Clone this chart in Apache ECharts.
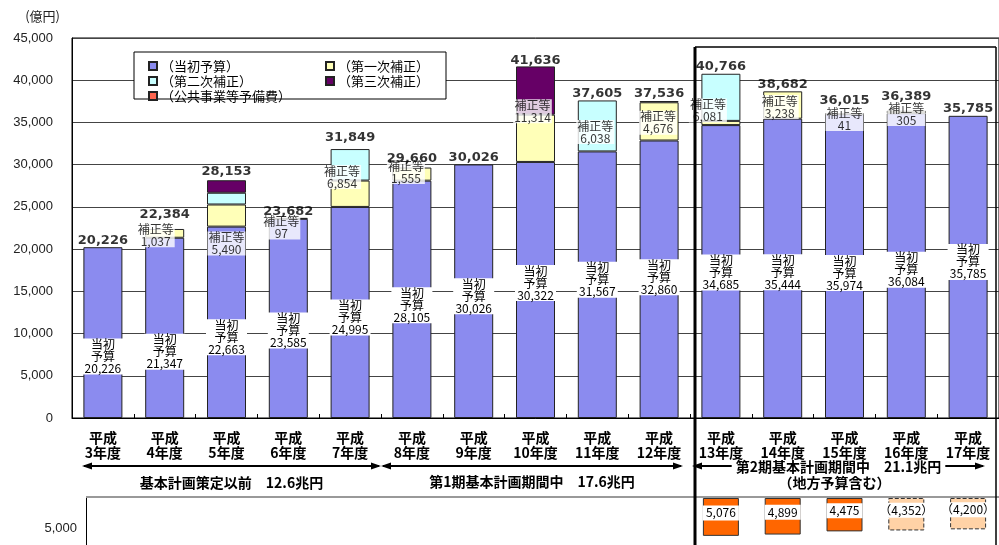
<!DOCTYPE html>
<html>
<head>
<meta charset="utf-8">
<script src="https://cdn.jsdelivr.net/npm/echarts@6/dist/echarts.min.js"></script>
<style>
  html, body { margin: 0; padding: 0; background: #fff; }
  #chart { width: 999px; height: 545px; }
</style>
</head>
<body>
<div id="chart"></div>
<script>
// Fiscal years (Heisei 3 – 17)
const years = ['平成\n3年度', '平成\n4年度', '平成\n5年度', '平成\n6年度', '平成\n7年度',
  '平成\n8年度', '平成\n9年度', '平成\n10年度', '平成\n11年度', '平成\n12年度',
  '平成\n13年度', '平成\n14年度', '平成\n15年度', '平成\n16年度', '平成\n17年度'];

// Budget components, 億円
const initialBudget = [20226, 21347, 22663, 23585, 24995, 28105, 30026, 30322, 31567, 32860, 34685, 35444, 35974, 36084, 35785];
const firstSupp     = [null, 1037, 2620, 97, 3124, 1555, null, 5600, null, 4526, 500, 3238, 41, 305, null];
const secondSupp    = [null, null, 1390, null, 3730, null, null, null, 6038, null, 5581, null, null, null, null];
const thirdSupp     = [null, null, 1480, null, null, null, null, 5714, null, null, null, null, null, null, null];
const publicWorksReserve = [null, null, null, null, null, null, null, null, null, 150, null, null, null, null, null];

// Local government budgets (lower panel); the last two are planned figures
const localActual  = [null, null, null, null, null, null, null, null, null, null, 5076, 4899, 4475, null, null];
const localPlanned = [null, null, null, null, null, null, null, null, null, null, null, null, null, 4352, 4200];

// Plan periods shown beneath the axis
const periodNotes = ['基本計画策定以前　12.6兆円', '第1期基本計画期間中　17.6兆円', '第2期基本計画期間中　21.1兆円', '（地方予算含む）'];

const JP = '"Noto Sans CJK JP", sans-serif';
const fmt = v => Number(v).toLocaleString('en-US');
const nz = v => v || 0;

const suppTotal = years.map((_, i) => nz(firstSupp[i]) + nz(secondSupp[i]) + nz(thirdSupp[i]) + nz(publicWorksReserve[i]));
const grandTotal = years.map((_, i) => initialBudget[i] + suppTotal[i]);

// label nudges (pixels) so the boxed labels sit clear of one another
const blueNudge = [24, 24, 15, 12, 5, 6, 5, -7, -5, -2, 1, 4, 7, 4, -5];
const suppNudge = {1: [-9, 2], 2: [0, 40], 3: [-7, 9], 4: [-8, -1], 5: [-6, -2], 7: [-3, -3], 8: [-2, 6],
  9: [-1, 2], 10: [-13, 11], 11: [-3, 2], 12: [0, 5], 13: [0, 2]};
const totalNudge = {1: -7, 2: -2, 3: 1, 4: -4, 5: -2, 7: 1, 12: -6, 13: -7};

const BAR_W = 39;
function segment(name, data, color) {
  return {
    type: 'bar', name, stack: 'total', barWidth: BAR_W,
    xAxisIndex: 0, yAxisIndex: 0,
    itemStyle: { color, borderColor: '#222', borderWidth: 1 },
    data
  };
}

const blue = segment('（当初予算）', initialBudget.map((v, i) => ({
  value: v,
  label: { offset: [0, blueNudge[i]] }
})), '#8b8bef');
blue.label = {
  show: true, position: 'inside',
  formatter: p => '当初\n予算\n' + fmt(p.value),
  backgroundColor: '#fff', color: '#000',
  fontFamily: JP, fontSize: 12, lineHeight: 12,
  width: 41, align: 'center', padding: [0, 0, 0, 0]
};

const suppLabels = [];
years.forEach((_, i) => {
  if (suppTotal[i] > 0) {
    suppLabels.push({
      value: [i, initialBudget[i] + suppTotal[i] / 2],
      label: { offset: suppNudge[i] || [-2, 0] }
    });
  }
});

const option = {
  animation: false,
  backgroundColor: '#fff',
  textStyle: { fontFamily: JP },
  grid: [
    { left: 72, top: 38, width: 930, height: 380, show: true, borderColor: '#000', borderWidth: 1 },
    { left: 72, top: 498, width: 930, height: 50 }
  ],
  legend: [
    {
      data: ['（当初予算）', '（第二次補正）', '（公共事業等予備費）'],
      orient: 'vertical', left: 143, top: 54, itemGap: 1,
      itemWidth: 8, itemHeight: 8, icon: 'rect', selectedMode: false,
      textStyle: { fontSize: 13, lineHeight: 14, color: '#000', fontFamily: JP, padding: [0, 0, 0, -1] }
    },
    {
      data: ['（第一次補正）', '（第三次補正）'],
      orient: 'vertical', left: 320, top: 54, itemGap: 1,
      itemWidth: 8, itemHeight: 8, icon: 'rect', selectedMode: false,
      textStyle: { fontSize: 13, lineHeight: 14, color: '#000', fontFamily: JP, padding: [0, 0, 0, -1] }
    }
  ],
  xAxis: [
    {
      type: 'category', data: years, gridIndex: 0,
      axisLine: { lineStyle: { color: '#000', width: 1 } },
      axisTick: { show: true, inside: true, length: 4, lineStyle: { color: '#000' } },
      axisLabel: { interval: 0, fontSize: 14, fontWeight: 'bold', lineHeight: 15, margin: 12, color: '#000', fontFamily: JP }
    },
    { type: 'category', data: years, gridIndex: 1, show: false }
  ],
  yAxis: [
    {
      type: 'value', gridIndex: 0, min: 0, max: 45000, interval: 5000,
      name: '(億円)', nameLocation: 'end', nameGap: 15,
      nameTextStyle: { align: 'right', padding: [0, 12, 0, 0], fontSize: 13, color: '#222', fontFamily: JP },
      axisLine: { show: true, lineStyle: { color: '#000' } },
      axisTick: { show: false },
      axisLabel: { formatter: v => fmt(v), fontSize: 13, color: '#222', margin: 19, fontFamily: '"Liberation Sans", Arial, sans-serif' },
      splitLine: { lineStyle: { color: '#444', width: 1 } }
    },
    {
      type: 'value', gridIndex: 1, inverse: true, min: 0, max: 6300, interval: 5000, offset: -14,
      axisLine: { show: true, lineStyle: { color: '#000' } },
      axisTick: { show: false },
      splitLine: { show: false },
      axisLabel: { formatter: v => (v === 5000 ? fmt(v) : ''), fontSize: 13, color: '#222', margin: 9, verticalAlign: 'bottom',
        fontFamily: '"Liberation Sans", Arial, sans-serif' }
    }
  ],
  series: [
    blue,
    segment('（第一次補正）', firstSupp, '#ffffb8'),
    segment('（第二次補正）', secondSupp, '#c8ffff'),
    segment('（第三次補正）', thirdSupp, '#660066'),
    segment('（公共事業等予備費）', publicWorksReserve, '#ff6650'),
    {
      type: 'scatter', name: 'supp-label', xAxisIndex: 0, yAxisIndex: 0,
      symbolSize: 1, itemStyle: { color: 'rgba(0,0,0,0)' }, silent: true, z: 6,
      label: {
        show: true, position: 'inside',
        formatter: p => '補正等\n' + fmt(suppTotal[p.value[0]]),
        backgroundColor: '#fff', color: '#000', fontFamily: JP,
        fontSize: 12, lineHeight: 12, padding: [0, 1, 0, 1], align: 'center'
      },
      data: suppLabels
    },
    {
      type: 'scatter', name: 'total-label', xAxisIndex: 0, yAxisIndex: 0,
      symbolSize: 1, itemStyle: { color: 'rgba(0,0,0,0)' }, silent: true, z: 7,
      label: {
        show: true, position: 'top', distance: 0,
        formatter: p => fmt(p.value[1]),
        color: '#000', fontWeight: 'bold', fontSize: 13, fontFamily: '"DejaVu Sans", sans-serif'
      },
      data: grandTotal.map((v, i) => ({ value: [i, v], label: { offset: [0, totalNudge[i] || 0] } }))
    },
    {
      type: 'bar', name: 'local', stack: 'local', xAxisIndex: 1, yAxisIndex: 1, barWidth: 36,
      itemStyle: { color: '#ff6600', borderColor: '#333', borderWidth: 1 },
      label: {
        show: true, position: 'inside', offset: [0, -4],
        formatter: p => fmt(p.value),
        backgroundColor: '#fff', color: '#000', width: 36, align: 'center',
        fontSize: 12, lineHeight: 15, fontFamily: JP
      },
      data: localActual
    },
    {
      type: 'bar', name: 'local-planned', stack: 'local', xAxisIndex: 1, yAxisIndex: 1, barWidth: 36,
      itemStyle: { color: '#ffd2a6', borderColor: '#333', borderWidth: 1, borderType: 'dashed' },
      label: {
        show: true, position: 'inside', offset: [0, -4],
        formatter: p => '（' + fmt(p.value) + '）',
        backgroundColor: '#fff', color: '#000', align: 'center',
        fontSize: 12, lineHeight: 15, fontFamily: JP
      },
      data: localPlanned
    }
  ]
};

const chart = echarts.init(document.getElementById('chart'), null, { renderer: 'canvas' });
chart.setOption(option);

// Period arrows, frames and notes, placed from the category axis
const cx = i => chart.convertToPixel({ xAxisIndex: 0 }, i);
const band = cx(1) - cx(0);
const edge = i => cx(0) + (i - 0.5) * band;

function arrow(x1, x2, y) {
  return [
    { type: 'line', shape: { x1: x1 + 2, y1: y, x2: x2 - 2, y2: y }, style: { stroke: '#000', lineWidth: 2 }, z: 5 },
    { type: 'polygon', shape: { points: [[x1, y], [x1 + 10, y - 3.5], [x1 + 10, y + 3.5]] }, style: { fill: '#000' }, z: 5 },
    { type: 'polygon', shape: { points: [[x2, y], [x2 - 10, y - 3.5], [x2 - 10, y + 3.5]] }, style: { fill: '#000' }, z: 5 }
  ];
}
function note(text, x, y, bg) {
  return {
    type: 'text', x, y, z: 6,
    style: {
      text, fill: '#000', font: 'bold 14px "Noto Sans CJK JP", sans-serif',
      align: 'center', verticalAlign: 'middle', textAlign: 'center', textVerticalAlign: 'middle',
      backgroundColor: bg || null, padding: bg ? [0, 4] : 0
    }
  };
}

const ARROW_Y = 466;
const a1 = [edge(0) + 10, edge(5)];
const a2 = [edge(5), edge(10) - 7];
const a3 = [edge(10) + 2, edge(15) - 14];
const boxX = edge(10) + 5;

const graphics = [
  // legend frame
  { type: 'rect', shape: { x: 134, y: 52, width: 312, height: 47 }, style: { fill: '#fff', stroke: '#000', lineWidth: 1 }, z: 1 },
  ...arrow(a1[0], a1[1], ARROW_Y),
  ...arrow(a2[0], a2[1], ARROW_Y),
  ...arrow(a3[0], a3[1], ARROW_Y),
  note(periodNotes[0], (a1[0] + a1[1]) / 2, 483),
  note(periodNotes[1], (a2[0] + a2[1]) / 2, 482),
  note(periodNotes[2], (a3[0] + a3[1]) / 2, ARROW_Y + 1, '#fff'),
  note(periodNotes[3], (a3[0] + a3[1]) / 2 - 4, 483),
  // frame around the second plan period
  { type: 'line', shape: { x1: boxX, y1: 47, x2: boxX, y2: 545 }, style: { stroke: '#000', lineWidth: 3 }, z: 8 },
  { type: 'line', shape: { x1: boxX, y1: 47, x2: 996, y2: 47 }, style: { stroke: '#000', lineWidth: 1.5 }, z: 8 },
  { type: 'line', shape: { x1: 996, y1: 47, x2: 996, y2: 545 }, style: { stroke: '#000', lineWidth: 1.5 }, z: 8 },
  // top rule of the lower panel
  { type: 'line', shape: { x1: 86, y1: 497, x2: 999, y2: 497 }, style: { stroke: '#999', lineWidth: 2 }, z: 4 }
];
chart.setOption({ graphic: { elements: graphics } });
</script>
</body>
</html>
